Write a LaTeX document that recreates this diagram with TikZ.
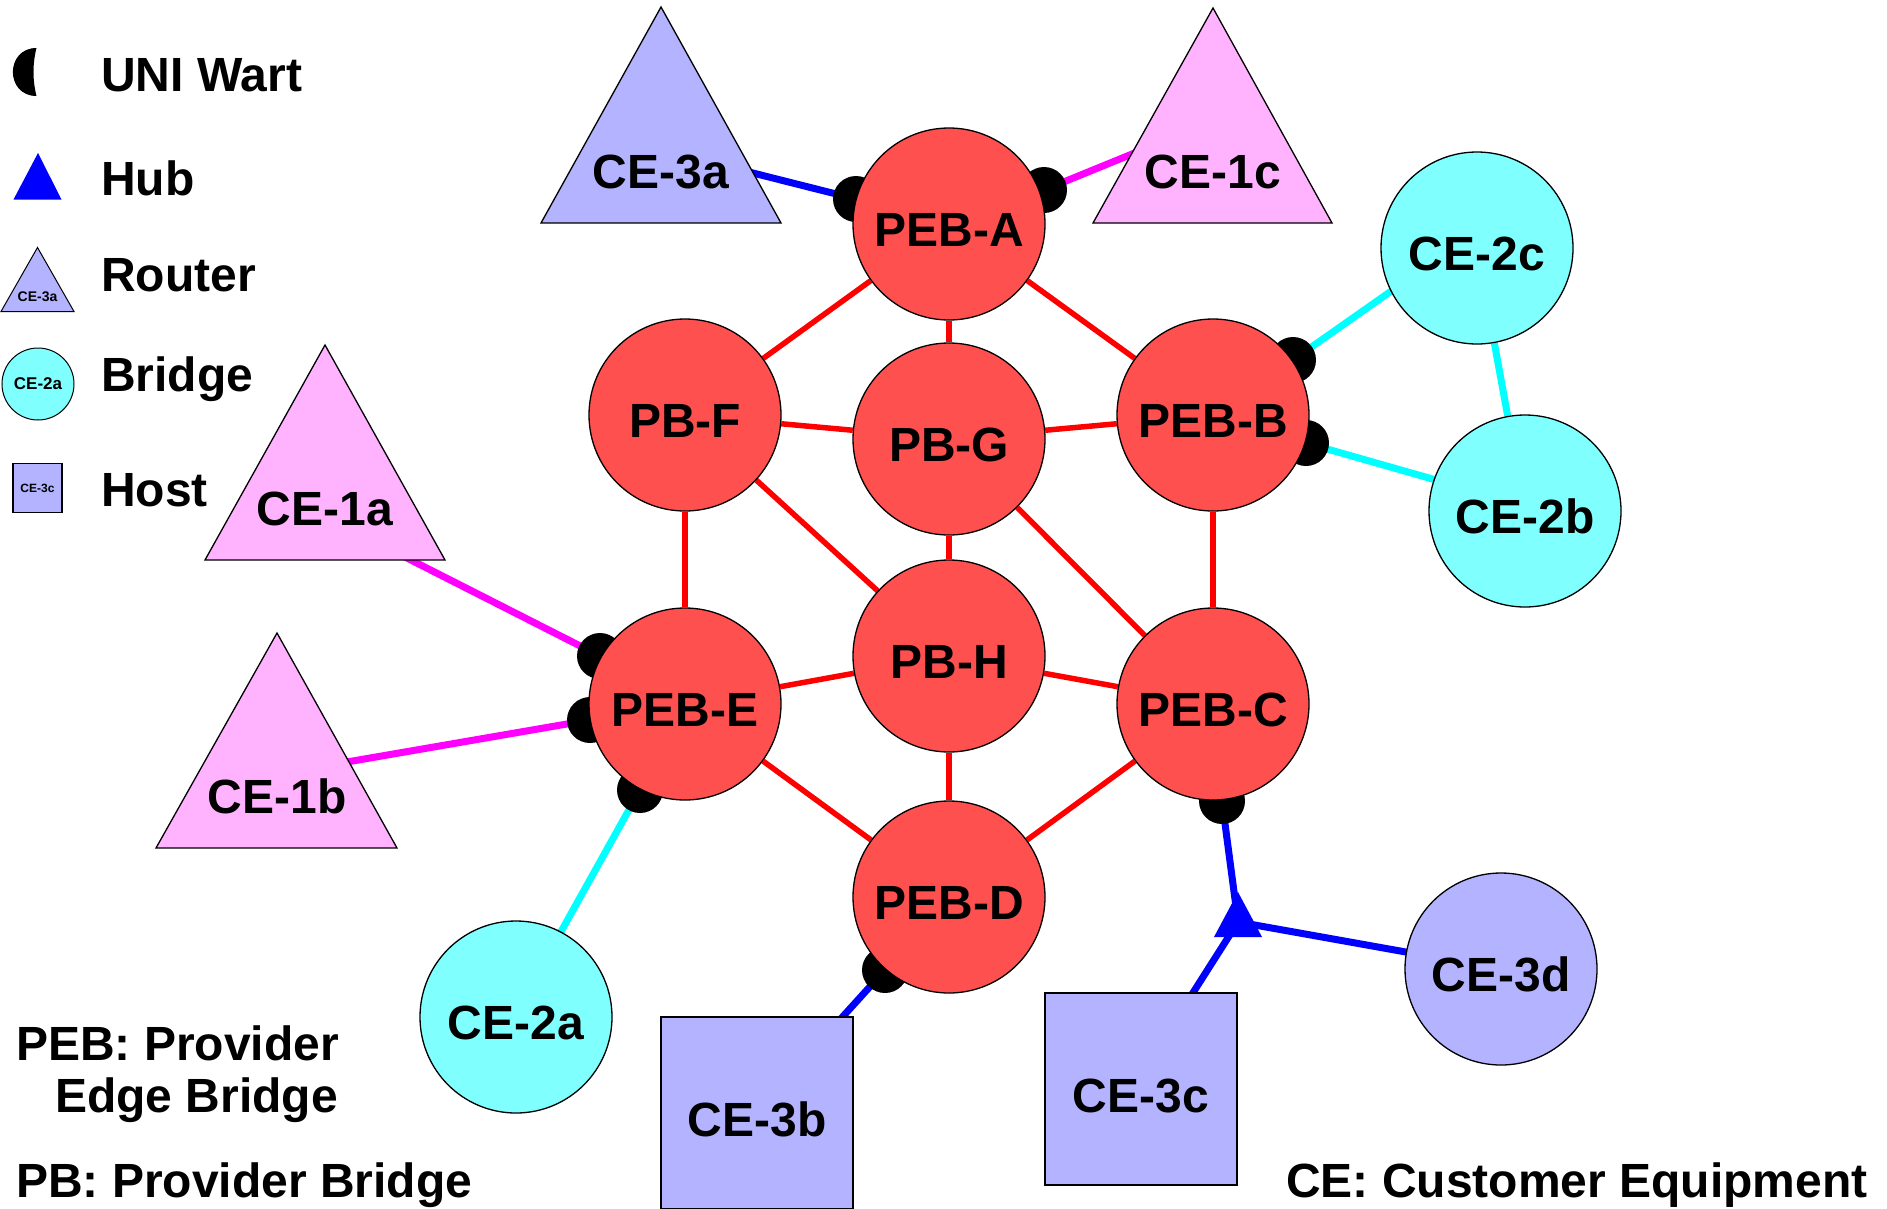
\documentclass[tikz,border=0pt]{standalone}
\usepackage{fontspec}
\setmainfont{Liberation Sans}
\usetikzlibrary{calc}
\pgfdeclarelayer{bg}
\pgfdeclarelayer{mid}
\pgfsetlayers{bg,mid,main}
\definecolor{peb}{HTML}{FF5050}
\definecolor{lav}{HTML}{B3B3FF}
\definecolor{pnk}{HTML}{FFB3FF}
\definecolor{cyn}{HTML}{80FFFF}
\definecolor{mgl}{HTML}{FF00FF}
\definecolor{cyl}{HTML}{00FFFF}
\definecolor{bll}{HTML}{0000FF}
\definecolor{rdl}{HTML}{FF0000}
\begin{document}
\begin{tikzpicture}[x=1pt,y=-1pt,
  bigfont/.style={font=\fontsize{48}{56}\selectfont\bfseries},
  bignode/.style={circle, draw=black, line width=1.3pt, minimum size=192pt, inner sep=0pt,
    bigfont, text height=45pt, text depth=0pt},
  pebnode/.style={bignode, fill=peb},
  bridgenode/.style={bignode, fill=cyn},
  hostcirc/.style={bignode, fill=lav},
  hostbox/.style={rectangle, draw=black, line width=1.8pt, minimum size=192pt, inner sep=0pt,
    fill=lav, bigfont, text height=46pt, text depth=0pt},
  trishape/.style={draw=black, line width=1.3pt, line join=miter},
  lbl/.style={inner sep=0pt, bigfont},
  wart/.style={circle, fill=black, minimum size=46pt, inner sep=0pt},
  rdline/.style={draw=rdl, line width=5.5pt},
  mgline/.style={draw=mgl, line width=7pt},
  cyline/.style={draw=cyl, line width=7pt},
  blline/.style={draw=bll, line width=7pt},
]
\useasboundingbox (0,0) rectangle (1887,1208);

% ---------------- provider bridges ----------------
\node[pebnode] (A) at (949,224) {PEB-A};
\node[pebnode] (F) at (685,415) {PB-F};
\node[pebnode] (G) at (949,439) {PB-G};
\node[pebnode] (B) at (1213,415) {PEB-B};
\node[pebnode] (H) at (949,656) {PB-H};
\node[pebnode] (E) at (685,704) {PEB-E};
\node[pebnode] (C) at (1213,704) {PEB-C};
\node[pebnode] (D) at (949,897) {PEB-D};

% ---------------- customer equipment ----------------
\draw[trishape, fill=lav] (661,7) -- (541,223) -- (781,223) -- cycle;
\node[lbl] (ce3a) at (661,172) {CE-3a};
\draw[trishape, fill=pnk] (1213,8) -- (1093,223) -- (1332,223) -- cycle;
\node[lbl] (ce1c) at (1213,172) {CE-1c};
\draw[trishape, fill=pnk] (325,345) -- (205,560) -- (445,560) -- cycle;
\node[lbl] (ce1a) at (325,509) {CE-1a};
\draw[trishape, fill=pnk] (277,633) -- (156,848) -- (397,848) -- cycle;
\node[lbl] (ce1b) at (277,796) {CE-1b};

\node[bridgenode] (ce2c) at (1477,248) {CE-2c};
\node[bridgenode] (ce2b) at (1525,511) {CE-2b};
\node[bridgenode] (ce2a) at (516,1017) {CE-2a};
\node[hostcirc] (ce3d) at (1501,969) {CE-3d};
\node[hostbox] (ce3b) at (757,1113) {CE-3b};
\node[hostbox] (ce3c) at (1141,1089) {CE-3c};

% hub
\fill[bll] (1238,892) -- (1214,937) -- (1262,937) -- cycle;
\coordinate (hub) at (1238,922);

% connector ends inside CE shapes
\coordinate (e3a) at (745,171);
\coordinate (e1c) at (1137,152);
\coordinate (e2c) at (1397,287);
\coordinate (e2b) at (1443,482);
\coordinate (e1a) at (403,556);
\coordinate (e1b) at (341,763);
\coordinate (e2a) at (558,937);
\coordinate (e3b) at (837,1023);
\coordinate (e3c) at (1189,999);

% ---------------- UNI warts ----------------
\begin{pgfonlayer}{mid}
\node[wart] (wA1) at (856,199) {};
\node[wart] (wA2) at (1044,190) {};
\node[wart] (wB1) at (1293,360) {};
\node[wart] (wB2) at (1306,443) {};
\node[wart] (wE1) at (600,656) {};
\node[wart] (wE2) at (590,720) {};
\node[wart] (wE3) at (640,790) {};
\node[wart] (wC) at (1222,801) {};
\node[wart] (wD) at (885,970) {};
\end{pgfonlayer}

% ---------------- links ----------------
\begin{pgfonlayer}{bg}
\draw[rdline] (A) -- (F);
\draw[rdline] (A) -- (G);
\draw[rdline] (A) -- (B);
\draw[rdline] (F) -- (G);
\draw[rdline] (G) -- (B);
\draw[rdline] (F) -- (E);
\draw[rdline] (F) -- (H);
\draw[rdline] (G) -- (H);
\draw[rdline] (G) -- (C);
\draw[rdline] (B) -- (C);
\draw[rdline] (E) -- (H);
\draw[rdline] (H) -- (C);
\draw[rdline] (H) -- (D);
\draw[rdline] (E) -- (D);
\draw[rdline] (C) -- (D);

\draw[blline] (wA1.center) -- (e3a);
\draw[mgline] (wA2.center) -- (e1c);
\draw[cyline] (wB1.center) -- (e2c);
\draw[cyline] (wB2.center) -- (e2b);
\draw[cyline] (ce2c) -- (ce2b);
\draw[mgline] (wE1.center) -- (e1a);
\draw[mgline] (wE2.center) -- (e1b);
\draw[cyline] (wE3.center) -- (e2a);
\draw[blline] (wD.center) -- (e3b);
\draw[blline] (wC.center) -- (hub);
\draw[blline] (hub) -- (ce3d.center);
\draw[blline] (hub) -- (e3c);
\end{pgfonlayer}

% ---------------- legend ----------------
\fill[black] (36.5,48) .. controls (5,48) and (5,96) .. (36.5,96)
  .. controls (32.5,80) and (32.5,64) .. (36.5,48);
\node[lbl, anchor=base west] (lwart) at (101,91) {UNI Wart};
\fill[bll] (38,153) -- (13.5,199.5) -- (61.5,199.5) -- cycle;
\node[lbl, anchor=base west] (lhub) at (101,195) {Hub};
\draw[fill=lav, line width=1pt] (37.5,247.5) -- (1,311.5) -- (74,311.5) -- cycle;
\node[inner sep=0pt, font=\fontsize{14}{16}\selectfont\bfseries] (lr) at (37.5,297) {CE-3a};
\node[lbl, anchor=base west] (lrouter) at (101,291) {Router};
\node[circle, draw=black, line width=1pt, fill=cyn, minimum size=72pt, inner sep=0pt,
  font=\fontsize{17}{19}\selectfont\bfseries] (lb) at (38,384) {CE-2a};
\node[lbl, anchor=base west] (lbridge) at (101,391) {Bridge};
\node[rectangle, draw=black, line width=1.8pt, fill=lav, minimum size=49pt, inner sep=0pt,
  font=\fontsize{12}{14}\selectfont\bfseries] (lh) at (37.5,488) {CE-3c};
\node[lbl, anchor=base west] (lhost) at (101,506) {Host};

% ---------------- notes ----------------
\node[lbl, anchor=base west] (n1) at (16,1060) {PEB: Provider};
\node[lbl, anchor=base west] (n2) at (55,1112) {Edge Bridge};
\node[lbl, anchor=base west] (n3) at (16,1197) {PB: Provider Bridge};
\node[lbl, anchor=base west] (n4) at (1286,1197) {CE: Customer Equipment};
\end{tikzpicture}
\end{document}
